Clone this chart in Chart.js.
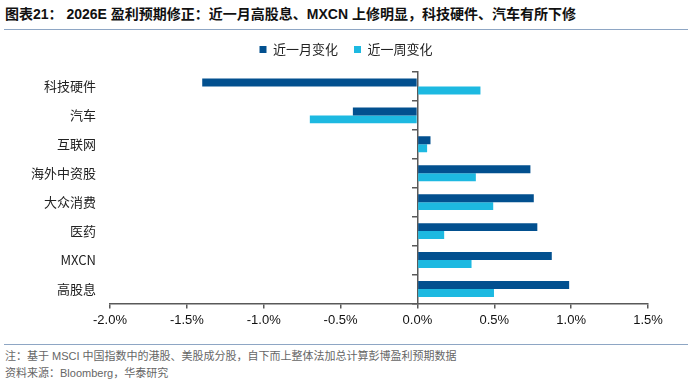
<!DOCTYPE html>
<html>
<head>
<meta charset="utf-8">
<script src="https://cdn.jsdelivr.net/npm/chart.js@4"></script>
<style>
  body { margin: 0; width: 692px; height: 389px; background: #fff; position: relative; overflow: hidden;
         font-family: "Liberation Sans", "Noto Sans CJK SC", sans-serif; }
  #title { position: absolute; left: 5px; top: 3px; font-size: 14px; font-weight: bold; color: #111; white-space: nowrap; }
  .rule { position: absolute; left: 4px; width: 684px; height: 1px; background: #8ea6c4; }
  #wrap { position: absolute; left: 0; top: 30px; width: 692px; height: 310px; }
  .note { position: absolute; left: 5px; font-size: 11px; color: #666; white-space: nowrap; }
</style>
</head>
<body>
<div id="title">图表21： 2026E 盈利预期修正：近一月高股息、MXCN 上修明显，科技硬件、汽车有所下修</div>
<div class="rule" style="top:29px"></div>
<div id="wrap"><canvas id="chart"></canvas></div>
<div class="rule" style="top:344px"></div>
<div class="note" style="top:347px">注：基于 MSCI 中国指数中的港股、美股成分股，自下而上整体法加总计算彭博盈利预期数据</div>
<div class="note" style="top:364px">资料来源：Bloomberg，华泰研究</div>
<script>
const categories = ['科技硬件', '汽车', '互联网', '海外中资股', '大众消费', '医药', 'MXCN', '高股息']
const monthChange = [-1.40, -0.42, 0.085, 0.735, 0.757, 0.78, 0.874, 0.987]
const weekChange = [0.41, -0.70, 0.063, 0.38, 0.493, 0.174, 0.352, 0.498]

const cjk = '"Noto Sans CJK SC", sans-serif'
const axisColor = '#595959'

const chartElm = document.getElementById('chart')

// centre the legend on the whole page (not on the padded area) and lift it a bit
const legendShift = {
    id: 'legendShift',
    afterLayout(chart) {
        const lg = chart.legend
        lg.left = 0
        lg.right = chart.width
        lg.top -= 6
        lg.bottom -= 6
    }
}

new Chart(chartElm, {
    type: 'bar',
    data: {
        labels: categories,
        datasets: [{
            label: '近一月变化',
            data: monthChange,
            backgroundColor: '#02508f',
            categoryPercentage: 0.55,
            barPercentage: 1,
        }, {
            label: '近一周变化',
            data: weekChange,
            backgroundColor: '#1db9e1',
            categoryPercentage: 0.55,
            barPercentage: 1,
        }]
    },
    options: {
        indexAxis: 'y',
        responsive: true,
        maintainAspectRatio: false,
        animation: false,
        layout: { padding: { top: 3, right: 44, bottom: 8, left: 0 } },
        plugins: {
            legend: {
                position: 'top',
                labels: {
                    boxWidth: 7,
                    boxHeight: 7,
                    padding: 16,
                    color: '#222',
                    font: { family: cjk, size: 13 },
                },
            },
            tooltip: { enabled: false },
        },
        scales: {
            x: {
                min: -2,
                max: 1.5,
                ticks: {
                    stepSize: 0.5,
                    color: '#111',
                    font: { family: '"Liberation Sans"', size: 13 },
                    padding: 4,
                    callback: v => v.toFixed(1) + '%',
                },
                grid: { drawOnChartArea: false, tickLength: 5, color: axisColor, lineWidth: 1.5 },
                border: { color: axisColor, width: 1.5 },
            },
            y: {
                ticks: { color: '#222', font: { family: cjk, size: 13 }, padding: 14 },
                grid: { display: false, drawTicks: false },
                border: { display: false },
                afterFit: s => { s.width = 110 },
            },
            yZero: {
                type: 'category',
                labels: categories,
                position: { x: 0 },
                ticks: { display: false },
                grid: { offset: true, drawOnChartArea: false, tickLength: 5, color: axisColor, lineWidth: 1.5 },
                border: { color: axisColor, width: 1.5 },
            },
        },
    },
    plugins: [legendShift],
})
</script>
</body>
</html>
